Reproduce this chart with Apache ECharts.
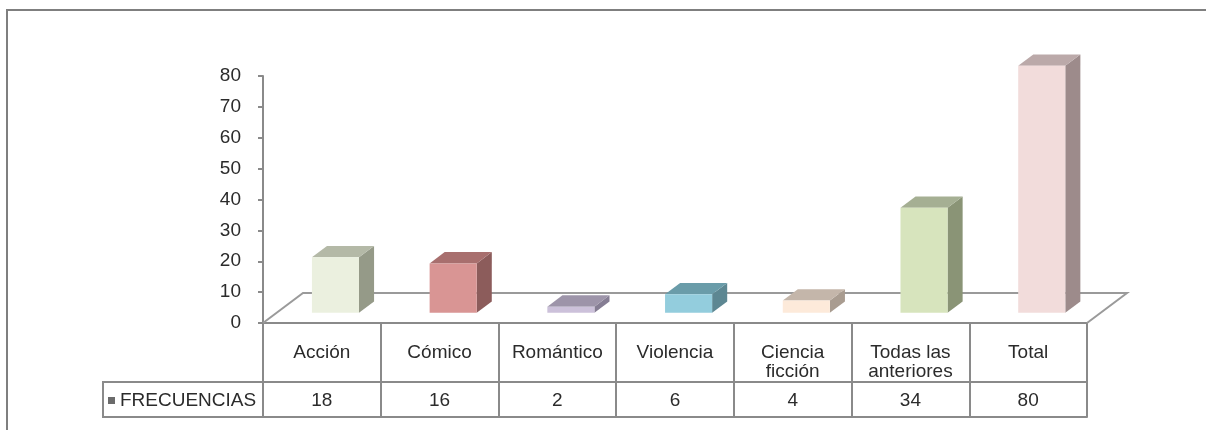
<!DOCTYPE html>
<html>
<head>
<meta charset="utf-8">
<script src="https://cdn.jsdelivr.net/npm/echarts@6/dist/echarts.min.js"></script>
<style>
  html, body { margin: 0; padding: 0; background: #ffffff; }
  #chart { width: 1206px; height: 430px; }
</style>
</head>
<body>
<div id="chart"></div>
<script>
// ---- data ----
const categories = ['Acción', 'Cómico', 'Romántico', 'Violencia', 'Ciencia\nficción', 'Todas las\nanteriores', 'Total'];
const frecuencias = [18, 16, 2, 6, 4, 34, 80];
const seriesName = 'FRECUENCIAS';
const yMin = 0, yMax = 80, yStep = 10;

// ---- colours for each column: front face, top face, right side ----
const faceColors = ['#EBF0DF', '#D99594', '#CCC1DA', '#93CDDD', '#FDEADA', '#D7E4BD', '#F2DCDB'];
const topColors  = ['#B4B9A7', '#A86F6E', '#9D94A9', '#6A9CA9', '#C4B6AA', '#A5AF93', '#BBA9A9'];
const sideColors = ['#959A88', '#8C5C5B', '#857D93', '#5D8792', '#A99C90', '#8A9476', '#9D8B8B'];

// ---- layout ----
const FONT = '"Liberation Sans", Arial, sans-serif';
const TEXT = '#2b2b2b';
const LINE = '#8a8a8a';
const PLOT = { left: 263, top: 76, right: 1087, bottom: 323 };
const FLOOR_DX = 40, FLOOR_DY = 30;      // oblique depth of the floor
const BAR_POS = 0.34;                    // columns sit a third of the way into the floor
const ROW1 = 59, ROW2 = 94;              // data-table row bottoms, below the floor edge
const LEGEND_CELL_LEFT = 103;

const chart = echarts.init(document.getElementById('chart'), null, { renderer: 'canvas' });

function renderColumn(params, api) {
  const i = api.value(0);
  const v = api.value(1);
  const base = api.coord([i, 0]);
  const top = api.coord([i, v]);
  const band = api.size([1, 0])[0];
  const w = band * 0.4;
  const dx = band * 0.128, dy = dx * 0.75;
  const ox = FLOOR_DX * BAR_POS, oy = -FLOOR_DY * BAR_POS;
  const x0 = base[0] + ox - w / 2, x1 = x0 + w;
  const yb = base[1] + oy, yt = top[1] + oy;
  return {
    type: 'group',
    children: [
      { type: 'polygon', shape: { points: [[x1, yb], [x1 + dx, yb - dy], [x1 + dx, yt - dy], [x1, yt]] },
        style: { fill: sideColors[i] } },
      { type: 'polygon', shape: { points: [[x0, yt], [x1, yt], [x1 + dx, yt - dy], [x0 + dx, yt - dy]] },
        style: { fill: topColors[i] } },
      { type: 'rect', shape: { x: x0, y: yt, width: w, height: yb - yt },
        style: { fill: faceColors[i] } }
    ]
  };
}

const labelStyle = { fontFamily: FONT, fontSize: 19, color: TEXT };

chart.setOption({
  animation: false,
  backgroundColor: '#ffffff',
  grid: {
    left: PLOT.left, top: PLOT.top,
    width: PLOT.right - PLOT.left, height: PLOT.bottom - PLOT.top,
    containLabel: false
  },
  legend: {
    data: [{ name: seriesName, itemStyle: { color: '#6b6b6b' } }],
    left: LEGEND_CELL_LEFT, top: PLOT.bottom + ROW1 + 4,
    icon: 'rect', itemWidth: 7, itemHeight: 7,
    selectedMode: false,
    textStyle: { fontFamily: FONT, fontSize: 19, color: TEXT }
  },
  xAxis: [
    {
      type: 'category', data: categories, position: 'bottom',
      axisLine: { onZero: false, lineStyle: { color: LINE, width: 2 } },
      axisTick: { show: true, interval: 0, length: ROW2, lineStyle: { color: LINE, width: 2 } },
      axisLabel: Object.assign({ interval: 0, margin: 20, lineHeight: 19, verticalAlign: 'top' }, labelStyle),
      splitLine: { show: false }
    },
    {
      type: 'category', data: frecuencias.map(String), position: 'bottom', offset: ROW1,
      axisLine: { onZero: false, lineStyle: { color: LINE, width: 2 } },
      axisTick: { show: false },
      axisLabel: Object.assign({ interval: 0, margin: 9 }, labelStyle),
      splitLine: { show: false }
    },
    {
      type: 'category', data: categories, position: 'bottom', offset: ROW2,
      axisLine: { onZero: false, lineStyle: { color: LINE, width: 2 } },
      axisTick: { show: false },
      axisLabel: { show: false },
      splitLine: { show: false }
    }
  ],
  yAxis: {
    type: 'value', min: yMin, max: yMax, interval: yStep,
    axisLine: { show: true, lineStyle: { color: LINE, width: 2 } },
    axisTick: { show: true, length: 5, lineStyle: { color: LINE, width: 2 } },
    axisLabel: Object.assign({ margin: 22 }, labelStyle),
    splitLine: { show: false }
  },
  graphic: [
    // chart frame
    { type: 'rect', z: 0, shape: { x: 7, y: 10, width: 1220, height: 440 },
      style: { fill: 'none', stroke: '#7f7f7f', lineWidth: 2 } },
    // floor outline behind the columns
    { type: 'polyline', z: 1,
      shape: { points: [
        [PLOT.left, PLOT.bottom],
        [PLOT.left + FLOOR_DX, PLOT.bottom - FLOOR_DY],
        [PLOT.right + FLOOR_DX, PLOT.bottom - FLOOR_DY],
        [PLOT.right, PLOT.bottom]
      ] },
      style: { fill: 'none', stroke: '#9a9a9a', lineWidth: 2 } },
    // legend cell of the data table
    { type: 'polyline', z: 1,
      shape: { points: [
        [PLOT.left, PLOT.bottom + ROW1],
        [LEGEND_CELL_LEFT, PLOT.bottom + ROW1],
        [LEGEND_CELL_LEFT, PLOT.bottom + ROW2],
        [PLOT.left, PLOT.bottom + ROW2]
      ] },
      style: { fill: 'none', stroke: LINE, lineWidth: 2 } }
  ],
  series: [
    {
      name: seriesName,
      type: 'custom',
      z: 5,
      xAxisIndex: 0, yAxisIndex: 0,
      renderItem: renderColumn,
      encode: { x: 0, y: 1 },
      data: frecuencias.map((v, i) => [i, v])
    }
  ]
});
</script>
</body>
</html>
